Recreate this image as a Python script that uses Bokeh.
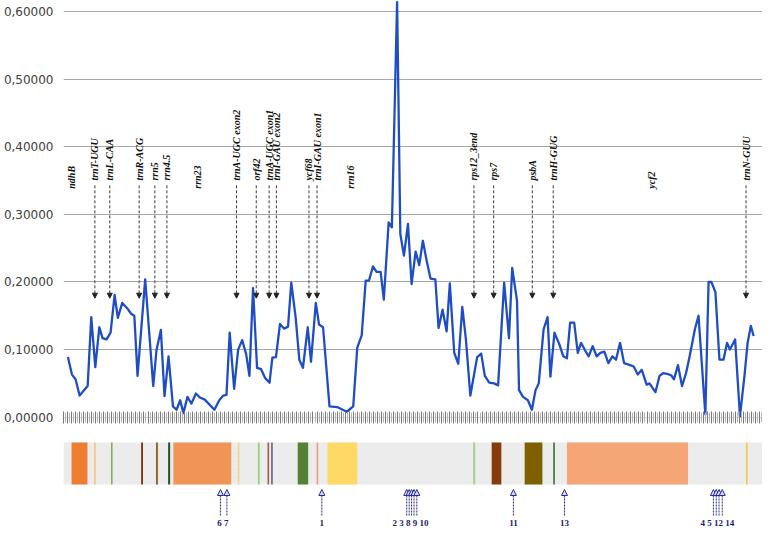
import numpy as np
from bokeh.plotting import figure
from bokeh.layouts import column
from bokeh.models import ColumnDataSource, Range1d, FixedTicker, Arrow, NormalHead
from bokeh.core.properties import value
from bokeh.embed import file_html
from bokeh.resources import INLINE

# ---------------- data ----------------
window = [0.1, 1.1, 2.0, 3.0, 5.0, 5.9, 6.9, 7.9, 8.7, 9.7, 10.7, 11.7, 12.5, 13.6, 15.0, 15.8, 16.6,
          17.4, 19.3, 21.3, 22.1, 23.2, 24.1, 25.1, 26.2, 27.1, 28.0, 28.8, 29.8, 30.8, 31.9, 32.9,
          34.1, 36.5, 37.7, 38.7, 39.5, 40.3, 41.4, 42.4, 43.4, 44.4, 45.2, 46.1, 47.1, 48.1, 49.1,
          50.2, 50.9, 51.8, 52.8, 53.8, 54.8, 55.6, 56.7, 57.6, 58.5, 59.7, 60.5, 61.7, 62.5, 63.5,
          65.1, 67.0, 69.4, 71.0, 72.0, 73.1, 74.1, 74.9, 75.9, 76.8, 77.8, 78.6, 79.8, 80.6, 81.9,
          82.7, 83.6, 84.6, 85.5, 86.5, 87.4, 88.3, 89.3, 90.2, 91.4, 92.2, 93.2, 94.2, 95.0, 96.1,
          97.1, 98.1, 99.0, 100.1, 101.8, 102.8, 103.7, 104.8, 106.0, 107.0, 108.5, 109.7, 110.5,
          111.7, 112.2, 113.2, 114.4, 115.4, 116.3, 117.1, 118.3, 119.3, 120.0, 121.0, 122.2, 123.2,
          124.1, 124.9, 125.9, 126.8, 127.6, 128.5, 129.5, 130.5, 131.5, 132.4, 133.4, 134.4, 135.4,
          136.3, 137.3, 138.3, 139.8, 140.7, 141.7, 142.7, 143.9, 144.6, 146.1, 147.1, 148.0, 149.0,
          150.0, 150.7, 151.7, 152.7, 153.7, 154.6, 155.9, 156.8, 158.5, 159.3, 160.0, 161.0, 162.0,
          163.0, 163.9, 164.6, 165.9, 167.1, 168.2, 169.0, 169.8, 170.5]
pi_value = [0.089, 0.063, 0.056, 0.032, 0.046, 0.148, 0.074, 0.133, 0.117, 0.115, 0.125, 0.181, 0.147,
            0.169, 0.160, 0.153, 0.150, 0.061, 0.204, 0.046, 0.099, 0.129, 0.031, 0.090, 0.016, 0.011,
            0.025, 0.006, 0.030, 0.020, 0.035, 0.029, 0.026, 0.011, 0.025, 0.032, 0.033, 0.125, 0.042,
            0.100, 0.114, 0.093, 0.061, 0.191, 0.073, 0.071, 0.058, 0.051, 0.088, 0.089, 0.138, 0.131,
            0.134, 0.199, 0.147, 0.085, 0.073, 0.133, 0.082, 0.169, 0.137, 0.133, 0.016, 0.015, 0.008,
            0.016, 0.103, 0.121, 0.202, 0.202, 0.223, 0.215, 0.215, 0.174, 0.288, 0.281, 0.614, 0.271,
            0.239, 0.286, 0.197, 0.245, 0.225, 0.261, 0.230, 0.205, 0.204, 0.132, 0.159, 0.127, 0.198,
            0.095, 0.079, 0.163, 0.115, 0.032, 0.089, 0.094, 0.061, 0.051, 0.050, 0.047, 0.199, 0.117,
            0.221, 0.172, 0.040, 0.030, 0.025, 0.011, 0.040, 0.050, 0.130, 0.148, 0.060, 0.125, 0.108,
            0.090, 0.087, 0.140, 0.140, 0.095, 0.110, 0.100, 0.090, 0.105, 0.090, 0.095, 0.097, 0.080,
            0.090, 0.085, 0.110, 0.080, 0.077, 0.075, 0.063, 0.070, 0.048, 0.050, 0.037, 0.061, 0.065,
            0.064, 0.062, 0.056, 0.077, 0.046, 0.065, 0.090, 0.130, 0.150, 0.004, 0.200, 0.200, 0.185,
            0.085, 0.085, 0.110, 0.100, 0.115, 0.001, 0.060, 0.110, 0.135, 0.120]

y_ticks = [0.0, 0.1, 0.2, 0.3, 0.4, 0.5, 0.6]
y_tick_labels = ["0,00000", "0,10000", "0,20000", "0,30000", "0,40000", "0,50000", "0,60000"]

gene_names = ["ndhB", "trnT-UGU", "trnL-CAA", "trnR-ACG", "rrn5", "rrn4.5", "rrn23",
              "trnA-UGC exon2", "orf42", "trnA-UGC exon1", "trnI-GAU exon2", "ycf68",
              "trnI-GAU exon1", "rrn16", "rps12_3end", "rps7", "psbA", "trnH-GUG", "ycf2", "trnN-GUU"]
gene_pos = [1.0, 6.8, 10.5, 17.8, 21.7, 24.7, 32.4, 42.0, 46.9, 50.1, 51.9, 60.0, 62.0, 70.2,
            101.0, 105.9, 115.5, 120.7, 145.0, 168.6]
gene_arrow = [False, True, True, True, True, True, False, True, True, True, True, True, True, False,
              True, True, True, True, False, True]

map_start = [1.0, 6.6, 10.8, 18.3, 22.0, 25.0, 26.3, 42.3, 47.3, 49.7, 50.6, 57.2, 61.9, 64.6,
             100.8, 105.4, 113.6, 120.7, 124.1, 168.6]
map_end = [4.95, 7.0, 11.2, 18.75, 22.45, 25.5, 40.7, 42.7, 47.75, 50.1, 51.0, 59.8, 62.3, 72.0,
           101.3, 107.8, 118.0, 121.1, 154.2, 169.0]
map_color = ["#ed7d31", "#f6c27c", "#7fb25a", "#7a2e0e", "#8c5a1e", "#24502a", "#f19458", "#f8d48a",
             "#9bcf7a", "#a0623a", "#6d5a8a", "#548235", "#e9a07a", "#ffd966", "#a5d28a", "#843c0c",
             "#7f6000", "#3e6e3a", "#f4a677", "#f5c84a"]

site_pos = [38.0, 39.6, 63.2, 84.3, 84.9, 85.5, 86.1, 86.8, 110.8, 123.5, 160.5, 161.2, 161.9, 162.7]
group_labels = ["6 7", "1", "2 3 8 9 10", "11", "13", "4 5 12 14"]
group_pos = [38.6, 63.2, 85.2, 110.8, 123.5, 161.5]

# ---------------- layout constants ----------------
XMIN, XMAX = -1.0, 172.7
LEFT = 56
xr = Range1d(XMIN, XMAX)
serif = value("Liberation Serif")

# ---------------- top chart ----------------
p1 = figure(width=762, height=427, x_range=xr, y_range=Range1d(-0.0005, 0.6165),
            output_backend="svg", toolbar_location=None,
            min_border_left=LEFT, min_border_right=0, min_border_top=0, min_border_bottom=10)
p1.outline_line_color = None
p1.xgrid.visible = False
p1.ygrid.ticker = FixedTicker(ticks=y_ticks)
p1.ygrid.grid_line_color = "#a8a8a8"
p1.ygrid.grid_line_width = 1
p1.ygrid.bounds = (XMIN, 170.3)

p1.yaxis.ticker = FixedTicker(ticks=y_ticks)
p1.yaxis.major_label_overrides = dict(zip(y_ticks, y_tick_labels))
p1.yaxis.axis_line_color = None
p1.yaxis.major_tick_line_color = None
p1.yaxis.minor_tick_line_color = None
p1.yaxis.major_label_text_font = "DejaVu Sans"
p1.yaxis.major_label_text_font_size = "12px"
p1.yaxis.major_label_text_color = "#404040"
p1.yaxis.major_label_standoff = 4

p1.xaxis.ticker = FixedTicker(ticks=list(np.arange(XMIN, XMAX, 1.0)),
                              minor_ticks=list(np.arange(XMIN + 0.5, XMAX, 1.0)))
p1.xaxis.axis_line_color = None
p1.xaxis.major_tick_in = 6
p1.xaxis.major_tick_out = 6
p1.xaxis.major_tick_line_color = "#7a7a7a"
p1.xaxis.minor_tick_in = 5
p1.xaxis.minor_tick_out = 5
p1.xaxis.minor_tick_line_color = "#b4b4b4"
p1.xaxis.major_label_text_alpha = 0
p1.xaxis.major_label_text_font_size = "1px"
p1.xaxis.major_label_standoff = 0

p1.line(window, pi_value, line_color="#1f4ec4", line_width=2.3, line_join="round")

gsrc = ColumnDataSource(dict(x=gene_pos, name=gene_names,
                             y=np.where(gene_arrow, 0.350, 0.338)))
p1.text(x="x", y="y", text="name", source=gsrc, angle=np.pi / 2, text_align="left",
        text_baseline="middle", text_font=serif, text_font_style="bold italic",
        text_font_size="10px", text_color="#111111")

arrow_x = [g for g, a in zip(gene_pos, gene_arrow) if a]
asrc = ColumnDataSource(dict(x=arrow_x, y0=[0.343] * len(arrow_x), y1=[0.176] * len(arrow_x)))
p1.add_layout(Arrow(x_start="x", y_start="y0", x_end="x", y_end="y1", source=asrc,
                    line_color="#3a3a3a", line_width=1, line_dash="3 2",
                    end=NormalHead(size=5, fill_color="#222222", line_color="#222222")))

# ---------------- bottom gene map ----------------
p2 = figure(width=762, height=104, x_range=xr, y_range=Range1d(0, 104),
            output_backend="svg", toolbar_location=None,
            min_border_left=LEFT, min_border_right=0, min_border_top=0, min_border_bottom=0)
p2.outline_line_color = None
p2.grid.visible = False
p2.xaxis.visible = False
p2.yaxis.ticker = FixedTicker(ticks=[52])
p2.yaxis.major_label_overrides = {52: "0,60000"}
p2.yaxis.major_label_text_alpha = 0
p2.yaxis.axis_line_color = None
p2.yaxis.major_tick_line_color = None
p2.yaxis.minor_tick_line_color = None
p2.yaxis.major_label_text_font = "DejaVu Sans"
p2.yaxis.major_label_text_font_size = "12px"
p2.yaxis.major_label_standoff = 4

BAR_B, BAR_T = 47, 89
p2.quad(left=[XMIN], right=[XMAX], bottom=[BAR_B], top=[BAR_T], fill_color="#efefef",
        line_color=None, hatch_pattern="right_diagonal_line", hatch_color="#e3e3e3",
        hatch_scale=4, hatch_weight=0.6)
msrc = ColumnDataSource(dict(l=map_start, r=map_end, c=map_color))
p2.quad(left="l", right="r", bottom=BAR_B, top=BAR_T, fill_color="c", line_color=None, source=msrc)

ssrc = ColumnDataSource(dict(x=site_pos, y0=[16] * len(site_pos), y1=[42] * len(site_pos)))
p2.add_layout(Arrow(x_start="x", y_start="y0", x_end="x", y_end="y1", source=ssrc,
                    line_color="#2a2a9a", line_width=1, line_dash="2 1",
                    end=NormalHead(size=6, fill_color="#d8d8f4", line_color="#2a2a9a",
                                   line_width=1)))
lsrc = ColumnDataSource(dict(x=group_pos, t=group_labels))
p2.text(x="x", y=9, text="t", source=lsrc, text_align="center", text_baseline="middle",
        text_font=serif, text_font_style="bold", text_font_size="9px", text_color="#1c1c6c")

layout = column(p1, p2, spacing=0)
open("out.html", "w").write(file_html(layout, INLINE))
